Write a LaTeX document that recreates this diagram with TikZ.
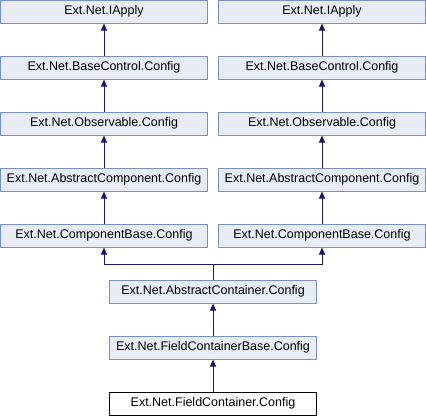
\documentclass[tikz,border=0pt]{standalone}
\usepackage{fontspec}
\setmainfont{Liberation Sans}
\usetikzlibrary{arrows.meta}
\definecolor{boxfill}{HTML}{E8ECF5}
\definecolor{boxline}{HTML}{7B8FC7}
\definecolor{arrowc}{HTML}{191970}
\tikzset{
  cls/.style={draw=boxline, fill=boxfill, line width=1pt, minimum width=207pt, minimum height=23pt, inner sep=0pt,
    font=\fontsize{12.5}{14}\selectfont, text=black},
  cur/.style={cls, draw=black, fill=white},
  arr/.style={draw=arrowc, line width=1pt, {Triangle[length=7pt,width=6pt]}-},
}
\begin{document}
\begin{tikzpicture}[x=1pt,y=-1pt]
\useasboundingbox (0,0) rectangle (426,416);
% left column
\node[cls] (la) at (104,11.5) {Ext.Net.IApply};
\node[cls] (lb) at (104,67.5) {Ext.Net.BaseControl.Config};
\node[cls] (lo) at (104,123.5) {Ext.Net.Observable.Config};
\node[cls] (lac) at (104,179.5) {Ext.Net.AbstractComponent.Config};
\node[cls] (lcb) at (104,235.5) {Ext.Net.ComponentBase.Config};
% right column
\node[cls] (ra) at (322,11.5) {Ext.Net.IApply};
\node[cls] (rb) at (322,67.5) {Ext.Net.BaseControl.Config};
\node[cls] (ro) at (322,123.5) {Ext.Net.Observable.Config};
\node[cls] (rac) at (322,179.5) {Ext.Net.AbstractComponent.Config};
\node[cls] (rcb) at (322,235.5) {Ext.Net.ComponentBase.Config};
% middle
\node[cls] (ac) at (213,291.5) {Ext.Net.AbstractContainer.Config};
\node[cls] (fcb) at (213,347.5) {Ext.Net.FieldContainerBase.Config};
\node[cur] (fc) at (213,403.5) {Ext.Net.FieldContainer.Config};
\coordinate (j) at (213,264);
% connectors
\draw[arr] (la.south) -- (lb.north);
\draw[arr] (lb.south) -- (lo.north);
\draw[arr] (lo.south) -- (lac.north);
\draw[arr] (lac.south) -- (lcb.north);
\draw[arr] (ra.south) -- (rb.north);
\draw[arr] (rb.south) -- (ro.north);
\draw[arr] (ro.south) -- (rac.north);
\draw[arr] (rac.south) -- (rcb.north);
\draw[arr] (lcb.south) |- (j) -- (ac.north);
\draw[arr] (rcb.south) |- (j);
\draw[arr] (ac.south) -- (fcb.north);
\draw[arr] (fcb.south) -- (fc.north);
\end{tikzpicture}
\end{document}
